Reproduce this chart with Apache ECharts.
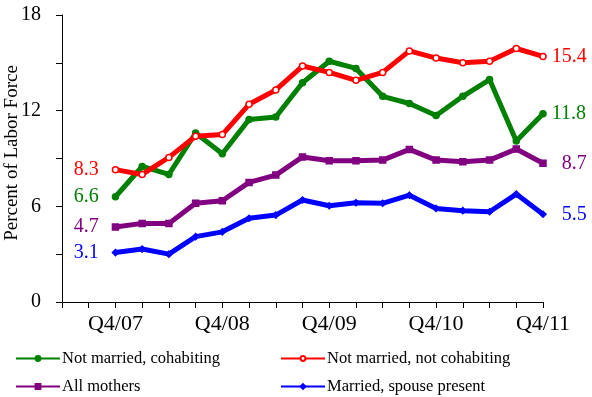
<!DOCTYPE html>
<html>
<head>
<meta charset="utf-8">
<script src="https://cdn.jsdelivr.net/npm/echarts@6/dist/echarts.min.js"></script>
<style>
  html, body { margin: 0; padding: 0; background: #fff; }
  #chart { width: 592px; height: 397px; }
</style>
</head>
<body>
<div id="chart"></div>
<script>
// quarters on the axis (two empty slots before the data starts)
var quarters = ['Q2/07', 'Q3/07',
  'Q4/07', 'Q1/08', 'Q2/08', 'Q3/08', 'Q4/08', 'Q1/09', 'Q2/09', 'Q3/09',
  'Q4/09', 'Q1/10', 'Q2/10', 'Q3/10', 'Q4/10', 'Q1/11', 'Q2/11', 'Q3/11', 'Q4/11'];
var labelledQuarters = ['Q4/07', 'Q4/08', 'Q4/09', 'Q4/10', 'Q4/11'];
var yTicks = [0, 6, 12, 18];

var cohabiting    = [6.6, 8.5, 8.0, 10.6, 9.3, 11.45, 11.6, 13.75, 15.1, 14.65, 12.9, 12.45, 11.7, 12.9, 13.95, 10.1, 11.8];
var notCohabiting = [8.3, 8.0, 9.07, 10.4, 10.5, 12.4, 13.3, 14.8, 14.4, 13.9, 14.4, 15.75, 15.3, 15.0, 15.1, 15.9, 15.4];
var allMothers    = [4.7, 4.93, 4.93, 6.19, 6.35, 7.5, 7.96, 9.1, 8.86, 8.86, 8.9, 9.57, 8.9, 8.8, 8.9, 9.6, 8.7];
var married       = [3.1, 3.32, 3.0, 4.1, 4.4, 5.25, 5.45, 6.4, 6.04, 6.23, 6.19, 6.7, 5.87, 5.73, 5.66, 6.77, 5.5];

var serif = '"Liberation Serif", "DejaVu Serif", serif';
var dataQuarters = quarters.slice(2);

function makeSeries(name, values, color, symbol, symbolColor) {
  var last = values.length - 1;
  var data = values.map(function (v, i) {
    var item = { value: [dataQuarters[i], v] };
    if (i === 0) {
      item.label = { show: true, position: 'left', distance: 13 };
    } else if (i === last) {
      // right labels end flush, so shorter numbers sit further out
      var len = v.toFixed(1).length;
      item.label = { show: true, position: 'right', distance: 5 + (4 - len) * 10 };
    }
    return item;
  });
  return {
    name: name,
    type: 'line',
    data: data,
    symbol: symbol,
    symbolSize: 6,
    lineStyle: { color: color, width: 5 },
    itemStyle: { color: symbolColor || color, borderColor: color, borderWidth: 1.5 },
    label: {
      color: color,
      fontFamily: serif,
      fontSize: 20,
      formatter: function (p) { return p.value[1].toFixed(1); }
    },
    z: 3
  };
}

function legendAt(name, left, top) {
  return {
    data: [name],
    left: left,
    top: top,
    itemWidth: 44,
    itemHeight: 6,
    itemGap: 2,
    textStyle: { fontFamily: serif, fontSize: 16.5, color: '#000', padding: [0, 0, 0, -3] },
    selectedMode: false
  };
}

var chart = echarts.init(document.getElementById('chart'));
chart.setOption({
  animation: false,
  backgroundColor: '#fff',
  grid: { left: 62, right: 49, top: 15, bottom: 95, containLabel: false, outerBoundsMode: 'none' },
  legend: [
    legendAt('Not married, cohabiting', 10, 345),
    legendAt('Not married, not cohabiting', 275, 345),
    legendAt('All mothers', 10, 373),
    legendAt('Married, spouse present', 275, 373)
  ],
  xAxis: {
    type: 'category',
    data: quarters,
    boundaryGap: false,
    axisLine: { lineStyle: { color: '#000', width: 1 } },
    axisTick: { show: true, inside: false, length: 6, interval: 0, lineStyle: { color: '#000' } },
    axisLabel: {
      interval: 0,
      margin: 11,
      fontFamily: serif,
      fontSize: 22,
      color: '#000',
      formatter: function (v) { return labelledQuarters.indexOf(v) >= 0 ? v : ''; }
    }
  },
  yAxis: {
    type: 'value',
    min: 0,
    max: 18,
    interval: 3,
    name: 'Percent of Labor Force',
    nameLocation: 'middle',
    nameGap: 40,
    nameMoveOverlap: false,
    nameTextStyle: { fontFamily: serif, fontSize: 19, color: '#000', padding: [0, 0, 0, 11] },
    axisLine: { show: true, lineStyle: { color: '#000', width: 1 } },
    axisTick: { show: true, length: 6, lineStyle: { color: '#000' } },
    splitLine: { show: false },
    axisLabel: {
      margin: 21,
      fontFamily: serif,
      fontSize: 20,
      color: '#000',
      formatter: function (v) { return yTicks.indexOf(v) >= 0 ? String(v) : ''; }
    }
  },
  series: [
    makeSeries('Not married, cohabiting', cohabiting, '#008000', 'circle'),
    makeSeries('Not married, not cohabiting', notCohabiting, '#ff0000', 'circle', '#ffffff'),
    makeSeries('All mothers', allMothers, '#800080', 'rect'),
    makeSeries('Married, spouse present', married, '#0000ff', 'diamond')
  ]
});
</script>
</body>
</html>
